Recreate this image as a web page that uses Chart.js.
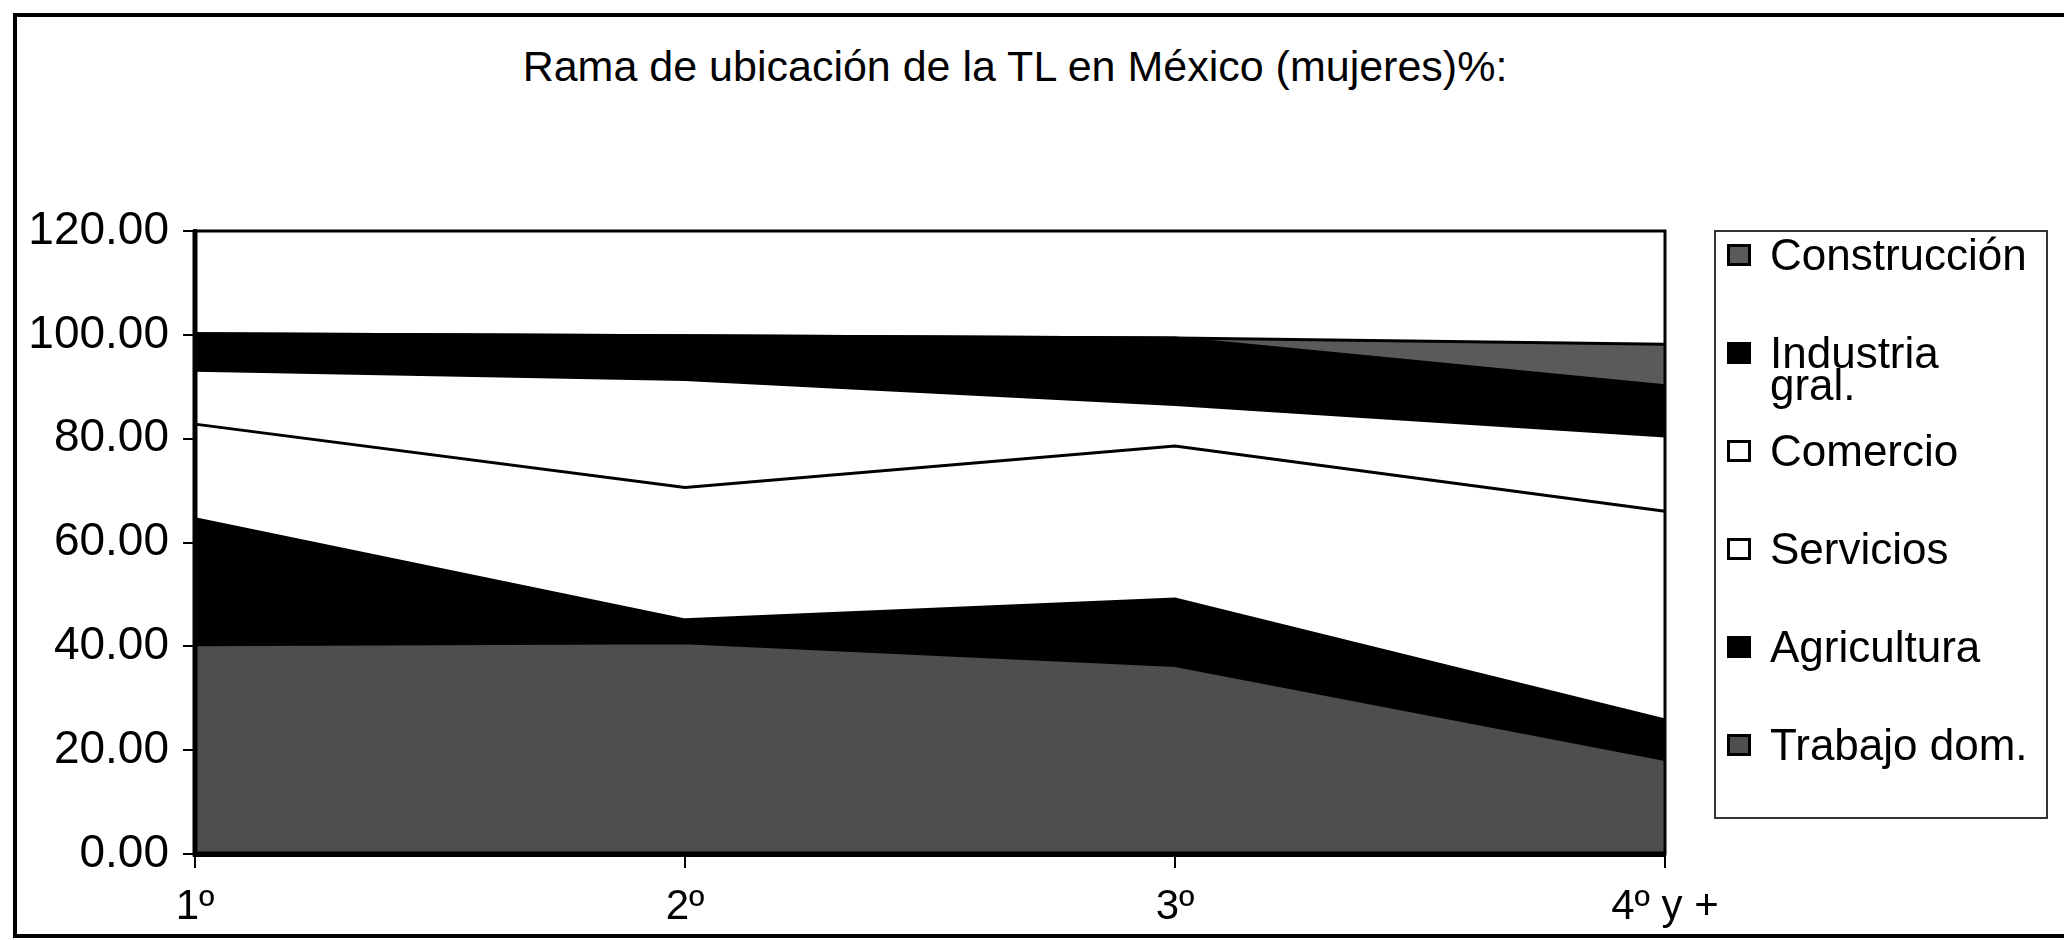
<!DOCTYPE html>
<html>
<head>
<meta charset="utf-8">
<script src="https://cdn.jsdelivr.net/npm/chart.js@4.4.1/dist/chart.umd.min.js"></script>
<style>
  html, body { margin: 0; padding: 0; background: #fff; }
  body { width: 2064px; height: 940px; position: relative; overflow: hidden;
         font-family: "Liberation Sans", Arial, sans-serif; color: #000; }
  #frame { position: absolute; left: 13px; top: 13px; width: 2200px; height: 925px;
           box-sizing: border-box; border: 4px solid #000; }
  #title { position: absolute; top: 41px; left: 0; width: 2030px; text-align: center;
           font-size: 43px; line-height: 50px; }
  #charts { position: absolute; left: 0; top: 0; }
  #legend { position: absolute; left: 1714px; top: 230px; width: 334px; height: 589px;
            box-sizing: border-box; border: 2px solid #333; background: #fff; }
  .item { position: absolute; left: 11px; height: 98px; display: flex; align-items: flex-start; }
  .mark { width: 24px; height: 22px; box-sizing: border-box; border: 3px solid #000;
          margin-top: 12px; margin-right: 19px; flex: none; }
  .txt { font-size: 44px; line-height: 32px; padding-top: 7px; white-space: nowrap; }
</style>
</head>
<body>
<div id="frame"></div>
<div id="title">Rama de ubicación de la TL en México (mujeres)%:</div>
<canvas id="charts" width="2064" height="940"></canvas>
<div id="legend"></div>
<script>
const charts = document.querySelector('#charts');
const legendBox = document.querySelector('#legend');

// datos (porcentajes por rama)
const categories = ['1º', '2º', '3º', '4º y +'];
const trabajoDom = [40.3, 40.7, 36.3, 18.2];
const agricultura = [24.3, 4.4, 12.8, 7.6];
const servicios = [18.2, 25.5, 29.5, 40.2];
const comercio = [10.4, 20.8, 8.0, 14.5];
const industria = [7.0, 8.4, 12.8, 9.7];
const construccion = [0, 0, 0, 8.0];

const seriesNames = ['Trabajo dom.', 'Agricultura', 'Servicios', 'Comercio', ['Industria', 'gral.'], 'Construcción'];
const seriesValues = [trabajoDom, agricultura, servicios, comercio, industria, construccion];
const seriesColors = ['#4e4e4e', '#000000', '#ffffff', '#ffffff', '#000000', '#5a5a5a'];

const yMax = 120;
const yStep = 20;

const plotFrame = {
  id: 'plotFrame',
  afterDraw(chart) {
    const { ctx, chartArea: a } = chart;
    ctx.save();
    ctx.strokeStyle = '#000';
    ctx.lineWidth = 3;
    ctx.strokeRect(a.left, a.top, a.right - a.left, a.bottom - a.top);
    ctx.lineWidth = 5;
    ctx.beginPath();
    ctx.moveTo(a.left, a.top);
    ctx.lineTo(a.left, a.bottom);
    ctx.lineTo(a.right, a.bottom);
    ctx.stroke();
    ctx.restore();
  }
};

const datasets = seriesValues.map((values, i) => ({
  label: Array.isArray(seriesNames[i]) ? seriesNames[i].join(' ') : seriesNames[i],
  data: values,
  fill: i === 0 ? 'origin' : '-1',
  backgroundColor: seriesColors[i],
  borderColor: '#000',
  borderWidth: 3,
  pointRadius: 0,
  tension: 0
}));

const chartInstance = new Chart(charts, {
  type: 'line',
  data: { labels: categories, datasets },
  options: {
    responsive: false,
    animation: false,
    layout: { padding: { left: 14, right: 399, top: 231, bottom: 6 } },
    plugins: { legend: { display: false }, title: { display: false }, tooltip: { enabled: false } },
    scales: {
      x: {
        offset: false,
        grid: { drawOnChartArea: false, tickLength: 14, color: '#000', lineWidth: 2 },
        border: { color: '#000', width: 5 },
        ticks: { color: '#000', padding: 14, maxRotation: 0,
                 font: { family: '"Liberation Sans", Arial, sans-serif', size: 42 } },
        afterFit: (s) => { s.height = 80; }
      },
      y: {
        stacked: true,
        min: 0,
        max: yMax,
        grid: { drawOnChartArea: false, tickLength: 12, color: '#000', lineWidth: 2 },
        border: { color: '#000', width: 4 },
        ticks: { stepSize: yStep, color: '#000', padding: 14,
                 callback: (v) => v.toFixed(2),
                 font: { family: '"Liberation Sans", Arial, sans-serif', size: 46 } },
        afterFit: (s) => { s.width = 181; }
      }
    }
  },
  plugins: [plotFrame]
});

// leyenda en orden inverso, como en el original
const legendItems = seriesNames.map((name, i) => ({ name, color: seriesColors[i] })).reverse();
legendBox.innerHTML = legendItems.map((it, i) => {
  const text = Array.isArray(it.name) ? it.name.join('<br>') : it.name;
  return `<div class="item" style="top:${i * 98}px"><div class="mark" style="background:${it.color}"></div><div class="txt">${text}</div></div>`;
}).join('');
</script>
</body>
</html>
